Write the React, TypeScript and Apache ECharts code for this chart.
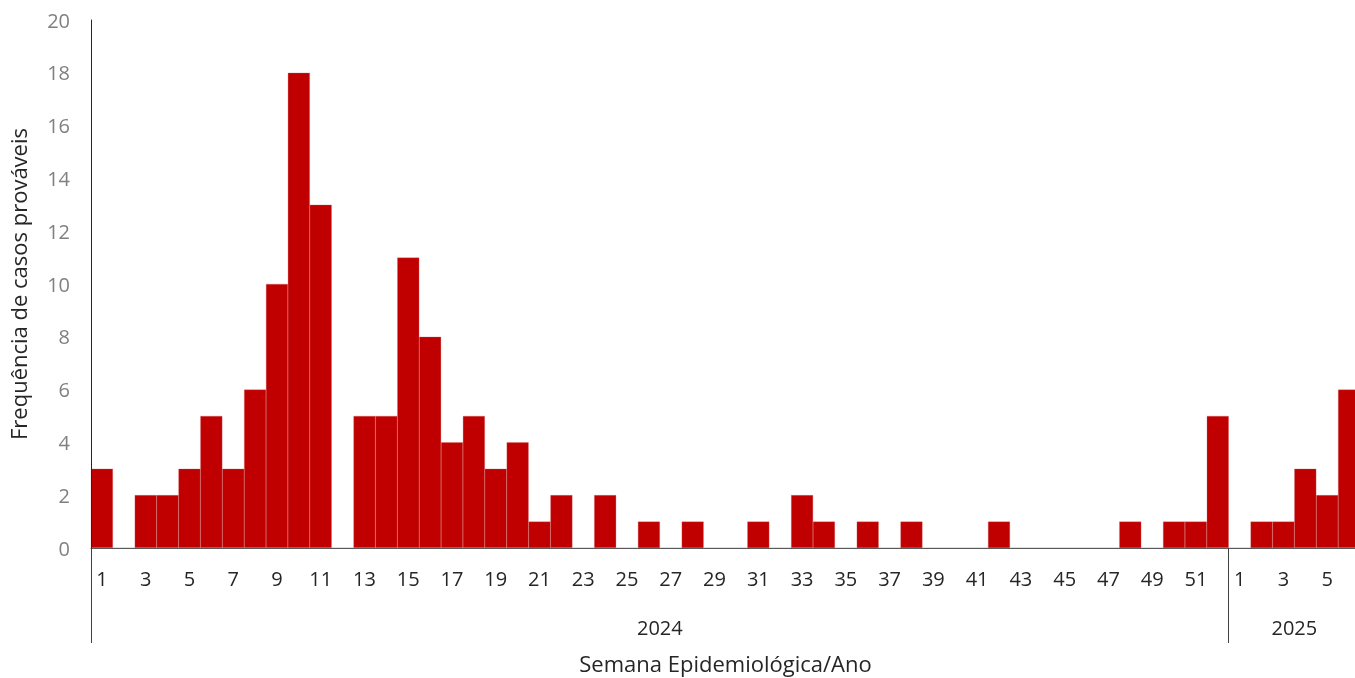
import React, { useEffect, useRef } from "react";
import * as echarts from "echarts";

const weeks2024: string[] = Array.from({ length: 52 }, (_, i) => String(i + 1));
const weeks2025: string[] = ["1", "2", "3", "4", "5", "6"];
const categories: string[] = [...weeks2024, ...weeks2025];

const cases2024: number[] = [
  3, 0, 2, 2, 3, 5, 3, 6, 10, 18,
  13, 0, 5, 5, 11, 8, 4, 5, 3, 4,
  1, 2, 0, 2, 0, 1, 0, 1, 0, 0,
  1, 0, 2, 1, 0, 1, 0, 1, 0, 0,
  0, 1, 0, 0, 0, 0, 0, 1, 0, 1,
  1, 5,
];
const cases2025: number[] = [0, 1, 1, 3, 2, 6];
const values: number[] = [...cases2024, ...cases2025];

const yearLabels: string[] = ["2024", "2025"];
const yearBoundaries: number[] = [0, weeks2024.length];
const yearCenters: number[] = [weeks2024.length / 2, weeks2024.length + weeks2025.length / 2];

const FONT = "'Open Sans', sans-serif";

export default function App() {
  const ref = useRef<HTMLDivElement>(null);
  useEffect(() => {
    if (!ref.current) return;
    const chart = echarts.init(ref.current, undefined, { renderer: "svg" });
    chart.setOption({
      animation: false,
      textStyle: { fontFamily: FONT },
      grid: {
        left: 91,
        top: 20,
        right: -5,
        bottom: 130,
        containLabel: false,
        outerBoundsMode: "none",
      },
      xAxis: [
        {
          type: "category",
          data: categories,
          boundaryGap: true,
          z: 5,
          axisLine: { show: true, lineStyle: { color: "#595959", width: 1 } },
          axisTick: {
            show: true,
            length: 95,
            interval: (index: number) => yearBoundaries.includes(index),
            lineStyle: { color: "#404040", width: 1 },
          },
          axisLabel: {
            interval: 1,
            margin: 20,
            color: "#262626",
            fontSize: 20,
            fontFamily: FONT,
          },
          name: "Semana Epidemiológica/Ano",
          nameLocation: "middle",
          nameGap: 104,
          nameTextStyle: { color: "#262626", fontSize: 22, fontFamily: FONT },
        },
        {
          type: "value",
          position: "bottom",
          offset: 63,
          min: 0,
          max: categories.length,
          interval: 1,
          axisLine: { show: false },
          axisTick: { show: false },
          splitLine: { show: false },
          axisLabel: {
            margin: 6,
            color: "#262626",
            fontSize: 20,
            fontFamily: FONT,
            formatter: (v: number) => {
              const i = yearCenters.indexOf(v);
              return i >= 0 ? yearLabels[i] : "";
            },
          },
        },
      ],
      yAxis: {
        type: "value",
        min: 0,
        max: 20,
        interval: 2,
        z: 5,
        axisLine: { show: true, lineStyle: { color: "#262626", width: 1 } },
        axisTick: { show: false },
        splitLine: { show: false },
        axisLabel: { color: "#808080", fontSize: 20, margin: 21, fontFamily: FONT },
        name: "Frequência de casos prováveis",
        nameLocation: "middle",
        nameGap: 62,
        nameTextStyle: { color: "#262626", fontSize: 22, fontFamily: FONT },
      },
      series: [
        {
          type: "bar",
          data: values,
          xAxisIndex: 0,
          barCategoryGap: "0%",
          barWidth: "100%",
          itemStyle: { color: "#c00000", borderColor: "#d46a6a", borderWidth: 0.3 },
        },
      ],
    });
    return () => chart.dispose();
  }, []);
  return (
    <div
      ref={ref}
      style={{ position: "fixed", left: 0, top: 0, width: 1355, height: 678 }}
    />
  );
}
